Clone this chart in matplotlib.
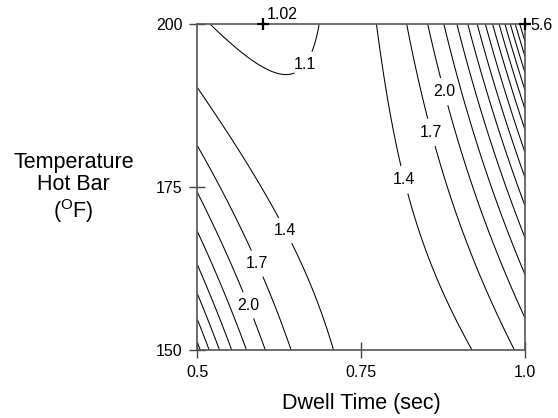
import numpy as np
import matplotlib
matplotlib.use("Agg")
import matplotlib.pyplot as plt

plt.rcParams["font.family"] = ["Liberation Sans", "DejaVu Sans"]
plt.rcParams["mathtext.fontset"] = "custom"
plt.rcParams["mathtext.rm"] = "Liberation Sans"

# Response surface for ln(response) in coded factors
# A = (dwell - 0.75) / 0.25, B = (temp - 175) / 25
# terms: 1, A, B, A^2, B^2, AB
coef = np.array([0.2228, 0.2263, -0.0017, 0.6794, 0.0346, 0.5729])

dwell_range = (0.5, 1.0)
temp_range = (150, 200)
levels = [1.1, 1.4, 1.7, 2.0, 2.3, 2.6, 2.9, 3.2, 3.5, 3.8, 4.1, 4.4, 4.7, 5.0, 5.3]
labelled_levels = [1.1, 1.4, 1.7, 2.0]
label_spots = [(0.642, 195.6), (0.646, 169), (0.593, 163.4), (0.58, 157),
               (0.829, 176.5), (0.855, 183.4), (0.873, 189.6)]

# predicted min / max on the design space
extreme_dwell = [0.6, 1.0]
extreme_temp = [200, 200]
extreme_value = [1.02, 5.6]

x_ticks = [0.5, 0.75, 1.0]
x_tick_labels = ["0.5", "0.75", "1.0"]
y_ticks = [150, 175, 200]


def surface(dwell, temp):
    a = (dwell - 0.75) / 0.25
    b = (temp - 175) / 25
    terms = np.stack([np.ones_like(a), a, b, a * a, b * b, a * b], axis=-1)
    return np.exp(terms @ coef)


fig = plt.figure(figsize=(5.58, 4.18), dpi=100)
ax = fig.add_axes([0.3536, 0.1615, 0.5873, 0.7799])

t = np.linspace(*dwell_range, 400)
T = np.linspace(*temp_range, 400)
gt, gT = np.meshgrid(t, T)
cs = ax.contour(gt, gT, surface(gt, gT), levels=levels, colors="k", linewidths=0.75)
texts = ax.clabel(cs, levels=labelled_levels, fmt="%.1f", fontsize=11.5,
                  inline_spacing=3, manual=label_spots)
for txt in texts:
    txt.set_rotation(0)

# min at the top edge gets its label above, max at the corner to the right
offsets = [(3, 2), (4, -1)]
for d, tp, v, off in zip(extreme_dwell, extreme_temp, extreme_value, offsets):
    ax.plot(d, tp, marker="+", color="k", markersize=9, mew=1.6, clip_on=False, zorder=5)
    ax.annotate(f"{v:g}", (d, tp), xytext=off, textcoords="offset points",
                fontsize=11.5, ha="left", va="bottom" if d < 1 else "center")

ax.set_xlim(*dwell_range)
ax.set_ylim(*temp_range)
ax.set_xticks(x_ticks)
ax.set_xticklabels(x_tick_labels)
ax.set_yticks(y_ticks)
ax.tick_params(direction="inout", length=11, width=1, color="#444444",
               labelsize=11.5, pad=5)
for sp in ax.spines.values():
    sp.set_color("#555555")
    sp.set_linewidth(1.2)

ax.set_xlabel("Dwell Time (sec)", fontsize=15.5, labelpad=9)
fig.text(0.132, 0.549, "Temperature\nHot Bar\n(${}^{\\mathrm{O}}$F)", fontsize=15.5,
         ha="center", va="center", linespacing=1.1)

fig.savefig("out.png", dpi=100)
